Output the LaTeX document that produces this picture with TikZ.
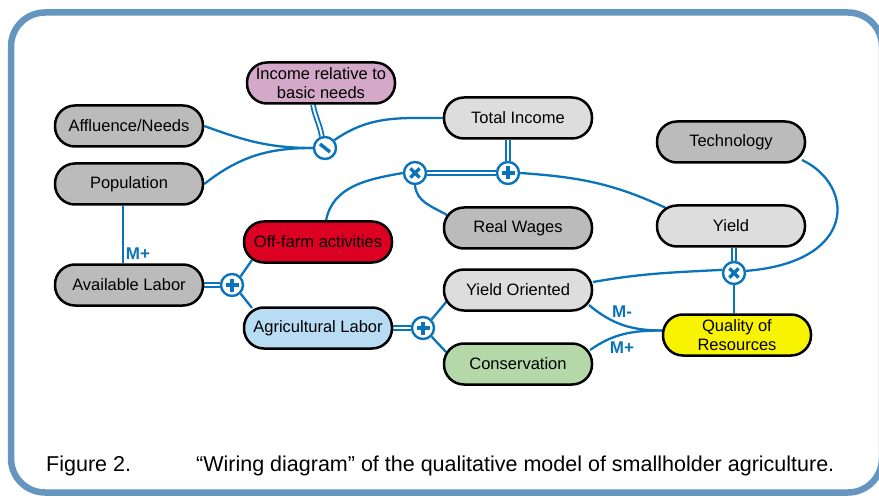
\documentclass[tikz,border=0pt]{standalone}
\usepackage{fontspec}
\setmainfont{Liberation Sans}
\newfontfamily\capfont{Liberation Sans}
\usetikzlibrary{calc,backgrounds}
\definecolor{lblue}{RGB}{10,115,186}
\definecolor{framecol}{RGB}{100,150,192}
\definecolor{gdark}{RGB}{187,187,187}
\definecolor{glight}{RGB}{221,221,221}
\definecolor{pinkf}{RGB}{212,168,200}
\definecolor{redf}{RGB}{220,0,34}
\definecolor{bluef}{RGB}{185,220,245}
\definecolor{greenf}{RGB}{180,216,168}
\definecolor{yellowf}{RGB}{248,243,0}
\tikzset{
  box/.style={draw=black, line width=2.5pt, rounded corners=20pt, minimum width=148pt,
    minimum height=41pt, inner sep=0pt, align=center, font=\fontsize{16.5}{19}\selectfont},
  conn/.style={draw=lblue, line width=2.3pt},
  dbl/.style={draw=lblue, line width=1.8pt, double=white, double distance=2pt},
  op/.style={circle, draw=lblue, fill=white, line width=2.4pt, minimum size=22pt, inner sep=0pt},
  sym/.style={draw=lblue, line width=3.4pt},
  mlab/.style={text=lblue, font=\fontsize{17}{18}\selectfont\bfseries, inner sep=0pt},
  capt/.style={font=\capfont\fontsize{21.5}{24}\selectfont, inner sep=0pt, anchor=base west}
}
\begin{document}
\begin{tikzpicture}[x=1pt,y=1pt]
\useasboundingbox (0,0) rectangle (879,499);
% frame
\draw[framecol, line width=6.5pt, rounded corners=34pt] (11,486.5) rectangle (882,6.5);
% nodes
\node[box, fill=pinkf] (inc) at (321,416) {Income relative to\\basic needs};
\node[box, fill=gdark] (aff) at (129,373) {Affluence/Needs};
\node[box, fill=gdark] (pop) at (129,315) {Population};
\node[box, fill=glight] (ti) at (518,381) {Total Income};
\node[box, fill=gdark] (tech) at (731,357) {Technology};
\node[box, fill=gdark] (rw) at (518,271) {Real Wages};
\node[box, fill=glight] (yield) at (731,273) {Yield};
\node[box, fill=redf] (off) at (318,257) {Off-farm activities};
\node[box, fill=gdark] (al) at (129,214) {Available Labor};
\node[box, fill=glight] (yo) at (518,209) {Yield Oriented};
\node[box, fill=bluef] (agri) at (318,171) {Agricultural Labor};
\node[box, fill=greenf] (cons) at (518,135) {Conservation};
\node[box, fill=yellowf] (qr) at (737,164) {Quality of\\Resources};
% operators
\node[op] (minus) at (325,351) {};
\node[op] (times1) at (415,326) {};
\node[op] (plus1) at (508,326) {};
\node[op] (plus2) at (232,214) {};
\node[op] (plus3) at (423,171) {};
\node[op] (times2) at (734,226) {};
% symbols
\draw[sym] ($(minus.center)+(-5,4)$) -- ($(minus.center)+(5,-4)$);
\foreach \p in {times1,times2}{
  \draw[sym] ($(\p.center)+(-4.6,4.6)$) -- ($(\p.center)+(4.6,-4.6)$);
  \draw[sym] ($(\p.center)+(-4.6,-4.6)$) -- ($(\p.center)+(4.6,4.6)$);
}
\foreach \p in {plus1,plus2,plus3}{
  \draw[sym] ($(\p.center)+(-6.5,0)$) -- ($(\p.center)+(6.5,0)$);
  \draw[sym] ($(\p.center)+(0,-6.5)$) -- ($(\p.center)+(0,6.5)$);
}
% labels
\node[mlab] (m1) at (138,245) {M+};
\node[mlab] (m2) at (622,187) {M-};
\node[mlab] (m3) at (622,151) {M+};
% caption
\node[capt] (fig) at (46,28) {Figure 2.};
\node[capt] (cap) at (196,28) {“Wiring diagram” of the qualitative model of smallholder agriculture.};
% connectors
\begin{scope}[on background layer]
\draw[conn] (aff.east) to[out=-20,in=180] (minus.west);
\draw[conn] (pop.east) to[out=38,in=180] (minus.west);
\draw[conn] (minus.40) to[out=35,in=180] (ti.west);
\draw[dbl] ($(inc.south)+(-8,0)$) to[out=-80,in=100] (minus.105);
\draw[dbl] (plus1.north) -- (plus1.north |- ti.south);
\draw[dbl] (plus1.west) -- (times1.east);
\draw[conn] (plus1.east) to[out=-4,in=155] ($(yield.center)+(-65,18)$);
\draw[conn] (times1.west) to[out=190,in=80] ($(off.center)+(8,21)$);
\draw[conn] (times1.south) to[out=-85,in=150] ($(rw.center)+(-71,13)$);
\draw[conn] ($(pop.south)+(-6,0)$) -- ($(al.north)+(-6,0)$);
\draw[dbl] (al.east) -- (plus2.west);
\draw[conn] (plus2.45) -- ($(off.center)+(-66,-18)$);
\draw[conn] (plus2.-45) -- ($(agri.center)+(-66,20)$);
\draw[dbl] (agri.east) -- (plus3.west);
\draw[conn] (plus3.45) -- ($(yo.center)+(-71,-11)$);
\draw[conn] (plus3.-45) -- ($(cons.center)+(-72,12)$);
\draw[conn] ($(yo.center)+(75,8)$) to[out=10,in=183] (times2.165);
\draw[conn] ($(tech.center)+(71,-18)$) .. controls (855,314) and (858,237) .. (times2.10);
\draw[dbl] (times2.north) -- (times2.north |- yield.south);
\draw[conn] (times2.south) -- (times2.south |- qr.north);
\draw[conn] ($(yo.center)+(71,-15)$) to[out=-40,in=180] ($(qr.center)+(-75,4.5)$);
\draw[conn] ($(cons.center)+(72,14)$) to[out=35,in=180] ($(qr.center)+(-75,4.5)$);
\end{scope}
\end{tikzpicture}
\end{document}
